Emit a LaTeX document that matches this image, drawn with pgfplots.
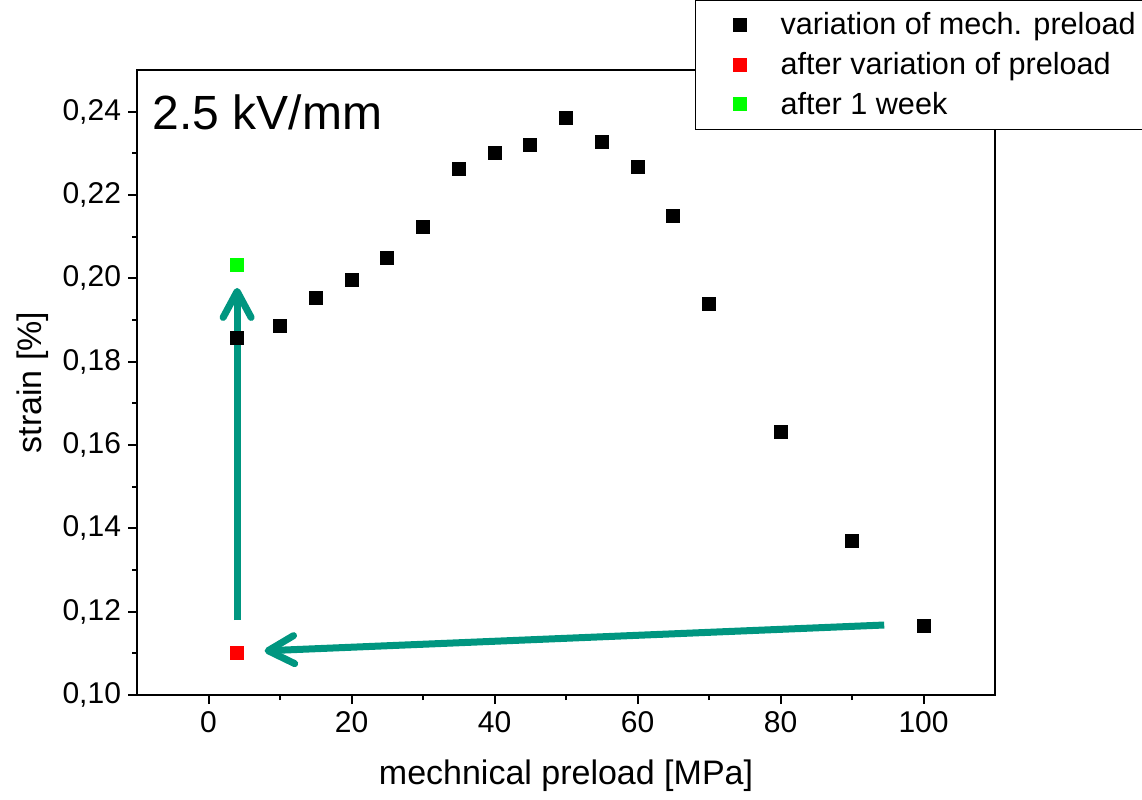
\documentclass[border=0pt]{standalone}
\usepackage{fontspec}
\setmainfont{Liberation Sans}
\usepackage{pgfplots}
\pgfplotsset{compat=1.18}
\usetikzlibrary{arrows.meta}
\definecolor{teal1}{RGB}{0,150,128}
\begin{document}
\begin{tikzpicture}
\begin{axis}[
  scale only axis, width=429pt, height=312.5pt,
  xmin=-10, xmax=110, ymin=0.10, ymax=0.25,
  xtick={0,20,40,60,80,100},
  ytick={0.10,0.12,0.14,0.16,0.18,0.20,0.22,0.24},
  minor x tick num=1, minor y tick num=1,
  tick align=outside, tick pos=left,
  major tick length=4.5pt, minor tick length=2.5pt,
  axis line style={line width=1pt},
  every tick/.style={black, line width=1pt},
  scaled y ticks=false,
  yticklabel style={/pgf/number format/.cd, fixed, fixed zerofill, precision=2, use comma},
  /pgf/number format/assume math mode=true,
  ticklabel style={font=\fontsize{15}{17}\selectfont},
  xlabel={mechnical preload [MPa]}, ylabel={strain [\%]},
  label style={font=\fontsize{17}{20}\selectfont},
  xlabel style={yshift=-7pt},
  legend cell align=left,
  legend image code/.code={\path[draw=none, fill=none] (0,0) rectangle (1.15cm,0); \draw[#1] plot[only marks] coordinates {(0.5cm,0cm)};},
  legend style={at={(0.650,1.112)}, anchor=north west, draw=black, line width=0.5pt,
    font=\fontsize{15.3}{17}\selectfont, inner xsep=8pt, inner ysep=2.5pt,
    nodes={inner ysep=3.6pt}},
]
\addplot[only marks, mark=square*, mark size=3.25pt, black] coordinates {
 (4,0.1857) (10,0.1886) (15,0.1953) (20,0.1997) (25,0.2049) (30,0.2124)
 (35,0.2263) (40,0.2302) (45,0.2321) (50,0.2386) (55,0.2328) (60,0.2268)
 (65,0.2150) (70,0.1939) (80,0.1632) (90,0.1370) (100,0.1166)};
\addlegendentry{variation of mech. preload}
\addplot[only marks, mark=square*, mark size=3.25pt, red, mark options={fill=red, draw=red}] coordinates {(4,0.1101)};
\addlegendentry{after variation of preload}
\addplot[only marks, mark=square*, mark size=3.25pt, green, mark options={fill=green, draw=green}] coordinates {(4,0.2033)};
\addlegendentry{after 1 week}
\draw[teal1, line width=3.5pt, -{Straight Barb[length=13pt, width=14pt, round]}]
  (axis cs:94.5,0.1168) -- (axis cs:7.85,0.1106);
\draw[teal1, line width=3.5pt, -{Straight Barb[length=13pt, width=14pt, round]}]
  (axis cs:4,0.118) -- (axis cs:4,0.1977);
\node[anchor=west, font=\fontsize{24}{27}\selectfont, inner sep=0pt] at (rel axis cs:0.018,0.933) {2.5 kV/mm};
\coordinate (bbll) at (rel axis cs:-0.1597,-0.1664);
\coordinate (bbur) at (rel axis cs:1.1713,1.112);
\end{axis}
\pgfresetboundingbox
\path (bbll) rectangle (bbur);
\end{tikzpicture}
\end{document}
